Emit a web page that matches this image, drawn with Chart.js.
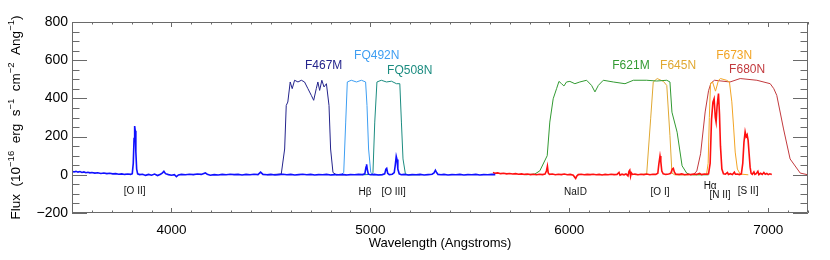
<!DOCTYPE html>
<html>
<head>
<meta charset="utf-8">
<script src="https://cdn.jsdelivr.net/npm/chart.js@4.4.1/dist/chart.umd.min.js"></script>
<style>
  body { margin: 0; background: #fff; }
  canvas { display: block; }
</style>
</head>
<body>
<canvas id="spectrumChart" width="830" height="260"></canvas>
<script>
// observed spectrum, [wavelength (A), flux]
const blueSpectrum = [
  [3500,19],[3510,15],[3520,18],[3530,14],[3540,17],[3550,12],[3560,15],[3570,11],[3580,13],[3590,10],
  [3600,12],[3615,9],[3630,11],[3645,7],[3660,9],[3675,6],[3690,8],[3705,5],[3720,6],[3735,3],
  [3750,5],[3765,2],[3780,4],[3795,2],[3803,6],[3808,60],[3812,190],[3815,255],[3818,230],[3821,120],
  [3825,30],[3830,5],[3840,1],[3855,3],[3870,-3],[3885,2],[3900,-2],[3915,4],[3930,-4],[3945,3],
  [3955,10],[3962,18],[3970,6],[3985,1],[4000,-2],[4015,1],[4025,-10],[4035,-1],[4050,2],[4070,0],
  [4090,3],[4110,1],[4130,4],[4150,2],[4170,10],[4180,3],[4195,-2],[4215,1],[4235,-1],[4255,2],
  [4275,0],[4295,3],[4315,1],[4335,2],[4355,-1],[4375,2],[4395,0],[4415,3],[4435,1],[4448,14],
  [4460,2],[4480,0],[4500,2],[4520,-1],[4540,1],[4560,3],[4580,0],[4600,2],[4620,-1],[4640,1],
  [4660,3],[4680,0],[4700,2],[4720,-1],[4740,1],[4760,0],[4780,2],[4800,-1],[4820,1],[4840,0],
  [4860,2],[4880,-1],[4900,1],[4920,0],[4940,2],[4960,1],[4972,5],[4978,40],[4981,55],[4985,25],
  [4990,3],[5000,0],[5020,2],[5040,-1],[5060,1],[5072,5],[5078,30],[5082,34],[5087,8],[5095,1],
  [5110,3],[5120,12],[5125,50],[5130,97],[5134,80],[5138,30],[5145,5],[5155,0],[5170,2],[5190,-1],
  [5210,1],[5230,0],[5250,2],[5270,-1],[5290,1],[5310,3],[5320,10],[5327,24],[5333,12],[5340,2],
  [5355,0],[5370,2],[5390,-1],[5410,1],[5430,0],[5450,2],[5470,-1],[5490,1],[5510,0],[5530,2],
  [5550,-1],[5570,1],[5590,0],[5610,2],[5628,1]
];

const redSpectrum = [
  [5616,12],[5625,8],[5640,10],[5655,6],[5670,8],[5685,5],[5700,7],[5715,4],[5730,6],[5745,3],
  [5760,5],[5775,2],[5790,4],[5805,1],[5820,3],[5835,0],[5850,3],[5865,1],[5878,4],[5885,20],
  [5890,45],[5894,10],[5900,2],[5915,4],[5930,0],[5945,3],[5960,1],[5975,4],[5990,0],[6005,2],
  [6020,-2],[6028,-14],[6032,-19],[6037,-8],[6045,1],[6060,3],[6075,0],[6090,2],[6105,1],[6120,3],
  [6135,0],[6150,2],[6165,-1],[6180,2],[6195,0],[6210,3],[6225,1],[6240,2],[6250,12],[6255,-2],
  [6265,3],[6275,0],[6285,4],[6295,-6],[6300,18],[6304,24],[6308,-8],[6312,10],[6318,2],[6330,4],
  [6345,0],[6360,3],[6375,1],[6390,4],[6405,0],[6420,3],[6435,2],[6445,8],[6450,55],[6456,98],
  [6460,70],[6465,20],[6472,5],[6485,2],[6500,4],[6510,8],[6518,30],[6523,34],[6528,15],[6535,3],
  [6550,2],[6565,5],[6580,0],[6595,3],[6610,1],[6625,4],[6640,2],[6655,8],[6665,1],[6680,4],
  [6692,3],[6700,5],[6708,60],[6715,290],[6722,380],[6728,398],[6734,300],[6738,276],[6743,360],[6750,425],
  [6755,320],[6760,150],[6767,30],[6775,5],[6785,3],[6795,12],[6800,2],[6810,6],[6820,1],[6830,14],
  [6835,3],[6845,4],[6855,1],[6865,5],[6872,60],[6878,170],[6884,225],[6889,200],[6894,210],[6899,180],
  [6904,110],[6909,40],[6914,8],[6920,3],[6928,15],[6933,2],[6940,6],[6948,18],[6953,1],[6962,8],
  [6970,2],[6978,12],[6985,3],[6993,7],[7000,1],[7008,5],[7018,2]
];

// filter throughput curves, scaled to the flux axis
const f467m = [
  [4480,0],[4552,4],[4569,135],[4577,363],[4585,381],[4597,486],[4607,451],[4619,495],[4636,486],[4653,495],
  [4669,486],[4686,451],[4703,416],[4715,390],[4728,451],[4736,486],[4745,442],[4756,495],[4767,460],[4779,477],
  [4792,363],[4800,135],[4812,12],[4829,0],[4880,0]
];
const fq492n = [
  [4800,0],[4855,2],[4866,12],[4876,276],[4884,486],[4904,495],[4930,486],[4955,495],[4976,486],[4983,363],
  [4991,135],[5002,12],[5015,0],[5060,0]
];
const fq508n = [
  [4960,0],[5005,2],[5013,12],[5022,276],[5033,486],[5055,495],[5081,486],[5106,490],[5131,477],[5148,477],
  [5156,276],[5164,83],[5176,5],[5190,0],[5250,0]
];
const f621m = [
  [5780,0],[5827,4],[5852,21],[5889,100],[5902,276],[5919,398],[5936,451],[5948,489],[5961,477],[5973,465],
  [5986,486],[6003,489],[6028,477],[6053,486],[6087,495],[6112,468],[6129,434],[6146,468],[6171,495],[6221,486],
  [6280,477],[6322,495],[6389,495],[6439,491],[6490,495],[6506,486],[6516,328],[6542,223],[6567,47],[6590,9],
  [6610,0],[6700,0]
];
const f645n = [
  [6330,0],[6389,4],[6409,293],[6422,486],[6442,504],[6473,489],[6490,468],[6506,205],[6516,9],[6530,0],
  [6600,0]
];
const f673n = [
  [6620,0],[6690,3],[6698,60],[6704,300],[6710,480],[6720,486],[6735,438],[6750,495],[6760,504],[6790,495],
  [6805,486],[6817,382],[6826,250],[6834,119],[6845,30],[6859,4],[6900,0]
];
const f680n = [
  [6550,0],[6625,2],[6641,20],[6660,110],[6683,329],[6700,440],[6712,480],[6730,495],[6808,486],[6859,504],
  [6943,495],[7010,477],[7028,451],[7043,416],[7077,240],[7110,83],[7161,9],[7200,0]
];

const filterNames = ['F467M', 'FQ492N', 'FQ508N', 'F621M', 'F645N', 'F673N', 'F680N'];
const filterCurves = [f467m, fq492n, fq508n, f621m, f645n, f673n, f680n];
const lineNames = ['[O II]', 'H\u03b2', '[O III]', 'NaID', '[O I]', 'H\u03b1', '[N II]', '[S II]'];

const xTickLabels = [4000, 5000, 6000, 7000];
const yTickLabels = [-200, 0, 200, 400, 600, 800];

// styles and label placement (in data units)
const filterColors = ['#24248c', '#3e9ef2', '#1c8c80', '#329a32', '#e0a832', '#f2a424', '#c23a3e'];
const filterLabelPos = [[4765,572],[5032,622],[5198,546],[6310,570],[6547,570],[6829,623],[6894,551]];
const lineLabelPos = [[3815,-84],[4973,-89],[5117,-89],[6031,-89],[6456,-89],[6708,-62],[6758,-107],[6899,-87]];

const FONT = "'Liberation Sans', Arial, sans-serif";

function toPoints(pairs) {
  return pairs.map(([x, y]) => ({ x: x, y: y }));
}

const datasets = [
  { data: toPoints(blueSpectrum), borderColor: '#1010ff', borderWidth: 1.6 },
  { data: toPoints(redSpectrum), borderColor: '#ff1010', borderWidth: 1.6 }
];
filterCurves.forEach((curve, i) => {
  datasets.push({ data: toPoints(curve), borderColor: filterColors[i], borderWidth: 1 });
});

const idlFrame = {
  id: 'idlFrame',
  afterDraw(chart) {
    const ctx = chart.ctx;
    const xs = chart.scales.x;
    const ys = chart.scales.y;
    const a = chart.chartArea;
    ctx.save();
    ctx.strokeStyle = '#6a6a6a';
    ctx.lineWidth = 1;
    ctx.beginPath();
    ctx.rect(Math.round(a.left) + 0.5, Math.round(a.top) + 0.5,
             Math.round(a.right - a.left) - 1, Math.round(a.bottom - a.top) - 1);
    // inward ticks, all four sides
    xs.ticks.forEach(t => {
      const px = Math.round(xs.getPixelForValue(t.value)) + 0.5;
      const len = xTickLabels.includes(t.value) ? 5 : 2.5;
      ctx.moveTo(px, a.bottom); ctx.lineTo(px, a.bottom - len);
      ctx.moveTo(px, a.top); ctx.lineTo(px, a.top + len);
    });
    ys.ticks.forEach(t => {
      const py = Math.round(ys.getPixelForValue(t.value)) + 0.5;
      const len = yTickLabels.includes(t.value) ? 15 : 7.5;
      ctx.moveTo(a.left, py); ctx.lineTo(a.left + len, py);
      ctx.moveTo(a.right, py); ctx.lineTo(a.right - len, py);
    });
    ctx.stroke();

    // filter names
    ctx.textAlign = 'center';
    ctx.textBaseline = 'middle';
    ctx.font = '12px ' + FONT;
    filterNames.forEach((name, i) => {
      ctx.fillStyle = filterColors[i];
      ctx.fillText(name, xs.getPixelForValue(filterLabelPos[i][0]), ys.getPixelForValue(filterLabelPos[i][1]));
    });
    // emission / absorption line names
    ctx.fillStyle = '#111';
    ctx.font = '10px ' + FONT;
    lineNames.forEach((name, i) => {
      ctx.fillText(name, xs.getPixelForValue(lineLabelPos[i][0]), ys.getPixelForValue(lineLabelPos[i][1]));
    });

    // axis titles
    ctx.font = '13px ' + FONT;
    ctx.fillStyle = '#000';
    ctx.fillText('Wavelength (Angstroms)', (a.left + a.right) / 2, 243);

    const pieces = [['Flux  (10', 0], ['\u221216', 1], ['  erg  s', 0], ['\u22121', 1], ['  cm', 0],
                    ['\u22122', 1], ['  Ang', 0], ['\u22121', 1], [')', 0]];
    const fontFor = sup => (sup ? '9.5px ' : '13.5px ') + FONT;
    let total = 0;
    pieces.forEach(([txt, sup]) => { ctx.font = fontFor(sup); total += ctx.measureText(txt).width; });
    ctx.translate(15, (a.top + a.bottom) / 2);
    ctx.rotate(-Math.PI / 2);
    ctx.textAlign = 'left';
    ctx.textBaseline = 'alphabetic';
    let x = -total / 2;
    pieces.forEach(([txt, sup]) => {
      ctx.font = fontFor(sup);
      ctx.fillText(txt, x, sup ? -1.5 : 4.5);
      x += ctx.measureText(txt).width;
    });
    ctx.restore();
  }
};

new Chart(document.getElementById('spectrumChart').getContext('2d'), {
  type: 'line',
  data: { datasets: datasets },
  options: {
    responsive: false,
    animation: false,
    parsing: true,
    layout: { padding: { left: 0, right: 22, top: 22, bottom: 0 } },
    elements: { point: { radius: 0 }, line: { tension: 0, fill: false } },
    plugins: { legend: { display: false }, tooltip: { enabled: false } },
    scales: {
      x: {
        type: 'linear',
        min: 3500, max: 7200,
        border: { display: false },
        grid: { display: false, drawTicks: false },
        afterFit: s => { s.height = 47; },
        ticks: {
          stepSize: 100, autoSkip: false, maxRotation: 0, padding: 9,
          color: '#000', font: { family: FONT, size: 13.5 },
          callback: v => (xTickLabels.includes(v) ? String(v) : '')
        }
      },
      y: {
        min: -200, max: 800,
        border: { display: false },
        grid: { display: false, drawTicks: false },
        afterFit: s => { s.width = 72; },
        ticks: {
          stepSize: 50, autoSkip: false, padding: 4,
          color: '#000', font: { family: FONT, size: 14 },
          callback: v => (yTickLabels.includes(v) ? String(v).replace('-', '\u2212') : '')
        }
      }
    }
  },
  plugins: [idlFrame]
});
</script>
</body>
</html>
